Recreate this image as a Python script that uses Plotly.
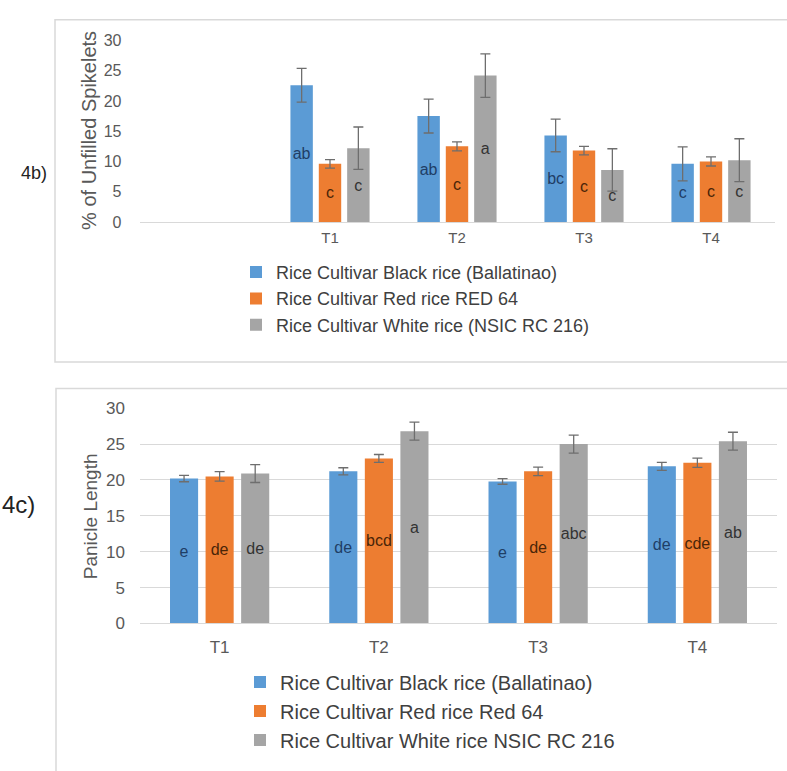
import plotly.graph_objects as go

W, H = 787, 771

treatments = ["T1", "T2", "T3", "T4"]

# Panel 4b: % of unfilled spikelets
b_names = ["Rice Cultivar Black rice (Ballatinao)",
           "Rice Cultivar Red rice RED 64",
           "Rice Cultivar White rice (NSIC RC 216)"]
b_black = [22.6, 17.5, 14.3, 9.6]
b_red = [9.6, 12.5, 11.8, 10.0]
b_white = [12.2, 24.2, 8.6, 10.2]
b_black_err = [2.8, 2.8, 2.7, 2.8]
b_red_err = [0.7, 0.75, 0.7, 0.75]
b_white_err = [3.5, 3.6, 3.5, 3.55]
b_black_lbl = ["ab", "ab", "bc", "c"]
b_red_lbl = ["c", "c", "c", "c"]
b_white_lbl = ["c", "a", "c", "c"]

# Panel 4c: panicle length
c_names = ["Rice Cultivar Black rice (Ballatinao)",
           "Rice Cultivar Red rice Red 64",
           "Rice Cultivar White rice NSIC RC 216"]
c_black = [20.2, 21.2, 19.8, 21.9]
c_red = [20.5, 23.0, 21.2, 22.4]
c_white = [20.9, 26.8, 25.0, 25.4]
c_black_err = [0.45, 0.5, 0.4, 0.55]
c_red_err = [0.65, 0.55, 0.6, 0.65]
c_white_err = [1.25, 1.25, 1.25, 1.25]
c_black_lbl = ["e", "de", "e", "de"]
c_red_lbl = ["de", "bcd", "de", "cde"]
c_white_lbl = ["de", "a", "abc", "ab"]

colors = ["#5B9BD5", "#ED7D31", "#A5A5A5"]
label_colors = ["#1F3E66", "#4A2508", "#333333"]
FONT = "Liberation Sans, Arial, sans-serif"

fig = go.Figure()

def add_panel(names, vals, errs, lbls, xa, ya, legend, fs, cap):
    for name, v, e, l, col, lc in zip(names, vals, errs, lbls, colors, label_colors):
        fig.add_trace(go.Bar(
            x=treatments, y=v, name=name,
            marker=dict(color=col, line=dict(width=0)),
            error_y=dict(type="data", array=e, visible=True,
                         color="#6E6E6E", thickness=1.3, width=cap),
            text=l, textposition="inside", insidetextanchor="middle",
            textangle=0, constraintext="none",
            textfont=dict(family=FONT, size=fs, color=lc),
            xaxis=xa, yaxis=ya, legend=legend,
        ))

add_panel(b_names, [b_black, b_red, b_white],
          [b_black_err, b_red_err, b_white_err],
          [b_black_lbl, b_red_lbl, b_white_lbl], "x", "y", "legend", 16, 5)
add_panel(c_names, [c_black, c_red, c_white],
          [c_black_err, c_red_err, c_white_err],
          [c_black_lbl, c_red_lbl, c_white_lbl], "x2", "y2", "legend2", 16, 5)

def px_x(p):
    return p / W

def px_y(p):
    return 1 - p / H

fig.update_layout(
    width=W, height=H, autosize=False,
    margin=dict(l=0, r=0, t=0, b=0),
    paper_bgcolor="white", plot_bgcolor="white",
    font=dict(family=FONT, color="#595959"),
    barmode="group", bargap=0.33, bargroupgap=0.21,
    showlegend=True,
    xaxis=dict(domain=[px_x(139.5), px_x(774.5)], anchor="y",
               type="category", range=[-1.5, 3.5],
               showgrid=False, showline=True, linecolor="#D9D9D9", linewidth=1,
               ticks="", tickfont=dict(size=15, color="#595959"),
               ticklabelstandoff=2, zeroline=False, fixedrange=True),
    yaxis=dict(domain=[px_y(218.3), px_y(32.3)], anchor="x",
               range=[0, 30], dtick=5, showgrid=False, showline=False,
               zeroline=False, ticks="", tickfont=dict(size=16, color="#595959"),
               ticklabelstandoff=17),
    xaxis2=dict(domain=[px_x(140), px_x(777)], anchor="y2",
                type="category", range=[-0.5, 3.5],
                showgrid=False, showline=True, linecolor="#D9D9D9", linewidth=1,
                ticks="", tickfont=dict(size=17, color="#595959"),
                ticklabelstandoff=8, zeroline=False),
    yaxis2=dict(domain=[px_y(630), px_y(409.3)], anchor="x2",
                range=[0, 30], dtick=5, showgrid=True, gridcolor="#D9D9D9",
                gridwidth=1, showline=False, zeroline=False, ticks="",
                tickfont=dict(size=17, color="#595959"), ticklabelstandoff=14),
    legend=dict(x=px_x(236), y=px_y(251), xanchor="left", yanchor="top",
                bgcolor="rgba(0,0,0,0)", font=dict(size=18, color="#404040"),
                itemwidth=30, traceorder="normal"),
    legend2=dict(x=px_x(240), y=px_y(670), xanchor="left", yanchor="top",
                 bgcolor="rgba(0,0,0,0)", font=dict(size=20, color="#404040"),
                 itemwidth=30, traceorder="normal"),
    shapes=[
        dict(type="rect", xref="paper", yref="paper",
             x0=px_x(55), x1=px_x(800), y0=px_y(362), y1=px_y(11),
             line=dict(color="#D9D9D9", width=1.5), fillcolor="rgba(0,0,0,0)", layer="below"),
        dict(type="rect", xref="paper", yref="paper",
             x0=px_x(56), x1=px_x(800), y0=px_y(790), y1=px_y(389),
             line=dict(color="#D9D9D9", width=1.5), fillcolor="rgba(0,0,0,0)", layer="below"),
    ],
    annotations=[
        dict(text="% of Unfilled Spikelets", xref="paper", yref="paper",
             x=px_x(89), y=px_y(125), textangle=-90, showarrow=False,
             xanchor="center", yanchor="middle",
             font=dict(size=20, color="#595959")),
        dict(text="Panicle Length", xref="paper", yref="paper",
             x=px_x(90), y=px_y(520), textangle=-90, showarrow=False,
             xanchor="center", yanchor="middle",
             font=dict(size=19, color="#595959")),
        dict(text="4b)", xref="paper", yref="paper",
             x=px_x(34), y=px_y(168), showarrow=False,
             xanchor="center", yanchor="middle",
             font=dict(size=18, color="#222222")),
        dict(text="4c)", xref="paper", yref="paper",
             x=px_x(18), y=px_y(508), showarrow=False,
             xanchor="center", yanchor="middle",
             font=dict(size=24, color="#222222")),
    ],
)

fig.write_html("out.html", config={"displayModeBar": False},
               post_script="document.body.style.margin='0px';")
